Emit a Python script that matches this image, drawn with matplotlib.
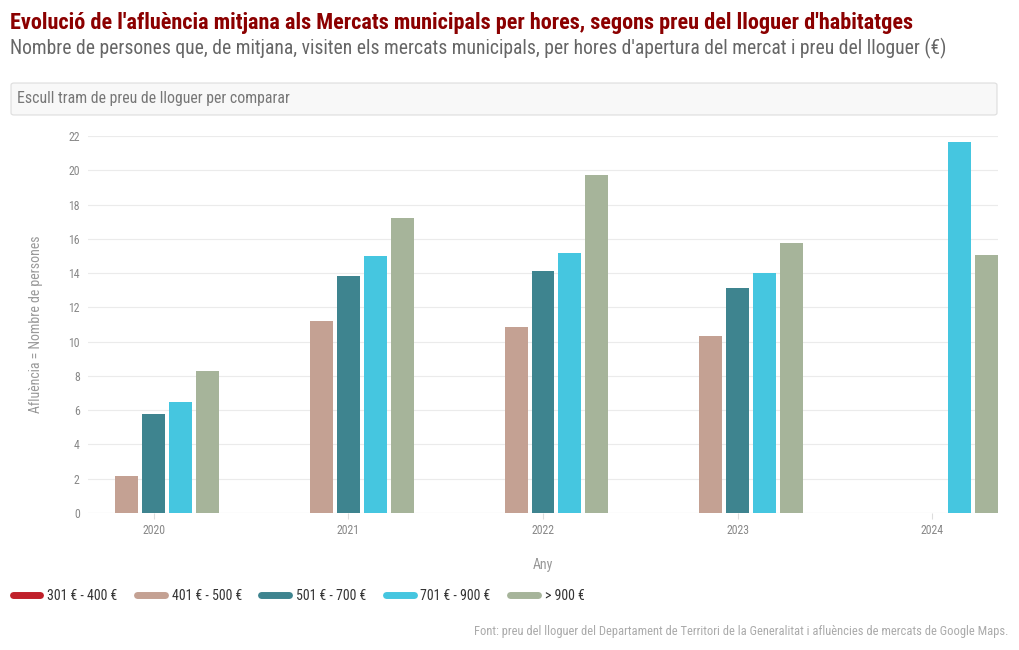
import numpy as np
import matplotlib
matplotlib.use("Agg")
import matplotlib.pyplot as plt
from matplotlib.patches import FancyBboxPatch
from matplotlib.lines import Line2D

plt.rcParams['font.family'] = ['Roboto Condensed', 'Liberation Sans Narrow', 'Roboto', 'DejaVu Sans']

anys = [2020, 2021, 2022, 2023, 2024]
trams = ["301 € - 400 €", "401 € - 500 €", "501 € - 700 €", "701 € - 900 €", "> 900 €"]
colors = ["#c0202a", "#c4a193", "#3e848f", "#45c6e0", "#a6b49a"]

# afluencia mitjana per tram (None = sense dades)
v_301_400 = [None, None, None, None, None]
v_401_500 = [2.16, 11.2, 10.85, 10.33, None]
v_501_700 = [5.78, 13.85, 14.1, 13.13, None]
v_701_900 = [6.48, 15.0, 15.17, 14.0, 21.65]
v_900 = [8.3, 17.2, 19.72, 15.77, 15.06]
series = [v_301_400, v_401_500, v_501_700, v_701_900, v_900]

fig = plt.figure(figsize=(10.2, 6.5), dpi=100)
ax = fig.add_axes([88/1020, 137/650, 910/1020, 377/650])

x = np.array(anys, dtype=float)
step = 27/195
width = 23/195
for i, (vals, c) in enumerate(zip(series, colors)):
    off = (i - 2) * step
    xs = [xx + off for xx, v in zip(x, vals) if v is not None]
    ys = [v for v in vals if v is not None]
    if ys:
        ax.bar(xs, ys, width=width, color=c, zorder=3)

ax.set_xlim(2020 - 66/195, 2024 + 66/195)
ax.set_ylim(0, 22)
ax.set_yticks(range(0, 23, 2))
ax.set_xticks(anys)
ax.grid(axis='y', color='#ebebeb', linewidth=0.8, zorder=0)
for s in ax.spines.values():
    s.set_visible(False)
ax.axhline(0, color='#dddddd', linewidth=0.8, zorder=1)
ax.tick_params(axis='y', length=0, labelsize=8.5, labelcolor='#888888', pad=6)
ax.tick_params(axis='x', length=4, color='#dddddd', labelsize=8.5, labelcolor='#888888', pad=4)
ax.set_ylabel("Afluència = Nombre de persones", fontsize=10, color='#999999', labelpad=18)
ax.set_xlabel("Any", fontsize=10, color='#999999', labelpad=15)

fig.text(10/1020, 1 - 23/650, "Evolució de l'afluència mitjana als Mercats municipals per hores, segons preu del lloguer d'habitatges",
         fontsize=16, fontweight='bold', color='#8b0000', va='center', ha='left')
fig.text(10/1020, 1 - 48/650, "Nombre de persones que, de mitjana, visiten els mercats municipals, per hores d'apertura del mercat i preu del lloguer (€)",
         fontsize=14.1, color='#666666', va='center', ha='left')

box = FancyBboxPatch((11/1020, 1 - 115/650), 986/1020, 32/650, boxstyle="round,pad=0,rounding_size=0.003",
                     transform=fig.transFigure, facecolor='#f8f8f8', edgecolor='#dddddd', linewidth=0.8)
fig.patches.append(box)
fig.text(17/1020, 1 - 99/650, "Escull tram de preu de lloguer per comparar", fontsize=11.4, color='#777777',
         va='center', ha='left')

handles = [Line2D([0], [0], color=c, linewidth=5, solid_capstyle='round') for c in colors]
fig.legend(handles, trams, loc='center left', bbox_to_anchor=(0.0, 1 - 596/650), ncol=5, frameon=False,
           fontsize=10, handlelength=2.0, handletextpad=0.5, columnspacing=1.4, labelcolor='#333333')

fig.text(1008/1020, 1 - 632/650, "Font: preu del lloguer del Departament de Territori de la Generalitat i afluències de mercats de Google Maps.",
         fontsize=9, color='#aaaaaa', ha='right', va='center')

fig.savefig("out.png", dpi=100)
